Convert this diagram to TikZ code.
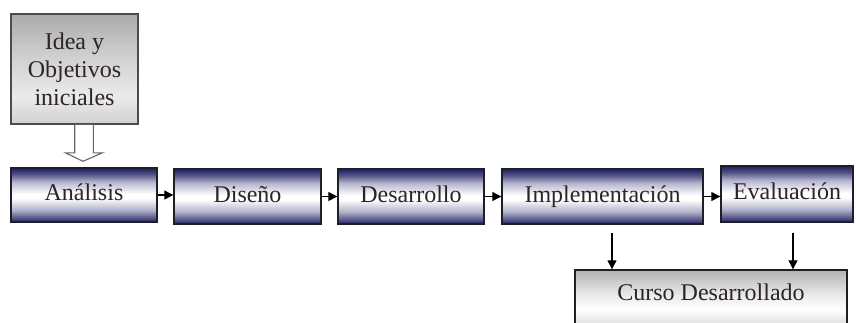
\documentclass[tikz,border=0pt]{standalone}
\usepackage{fontspec}
\setmainfont{Liberation Serif}
\usetikzlibrary{arrows.meta,calc}

\definecolor{navy}{RGB}{30,30,98}
\definecolor{ink}{RGB}{45,35,42}
\definecolor{edge}{RGB}{30,30,40}

% Shadings are fitted so that 25bp..75bp covers the path (bottom to top).
% dark - white - dark bar used for the process steps
\pgfdeclareverticalshading{bluebar}{100bp}{%
  color(0bp)=(navy); color(25bp)=(navy); color(28bp)=(navy!80!white);
  color(36bp)=(navy!35!white); color(47bp)=(white); color(51bp)=(white);
  color(62bp)=(navy!32!white); color(69bp)=(navy!75!white);
  color(75bp)=(navy); color(100bp)=(navy)}
% light grey bar of the result box
\pgfdeclareverticalshading{graybar}{100bp}{%
  color(0bp)=(black!22); color(25bp)=(black!22); color(45bp)=(white);
  color(56bp)=(white!92!black); color(75bp)=(black!30); color(100bp)=(black!30)}
% grey panel of the starting idea
\pgfdeclareverticalshading{ideabar}{100bp}{%
  color(0bp)=(black!18); color(25bp)=(black!18); color(37.5bp)=(black!8);
  color(55bp)=(black!18); color(75bp)=(black!33); color(100bp)=(black!33)}

\tikzset{
  txt/.style={font=\fontsize{24}{28}\selectfont, text=ink},
  stepbox/.style={txt, draw=edge, line width=1.4pt, shading=bluebar,
    inner sep=0pt, text height=16pt, text depth=5pt},
  graybox/.style={txt, draw=edge, line width=1.4pt, shading=graybar,
    inner sep=0pt},
  ideabox/.style={txt, draw=black!70, line width=1.6pt, shading=ideabar,
    inner sep=0pt, align=center},
  conn/.style={draw=black, line width=1.2pt,
    -{Triangle[length=9pt,width=9pt]}},
  hollow/.style={draw=black!60, line width=1.1pt, fill=white,
    line join=miter}
}

\begin{document}
\begin{tikzpicture}[x=1pt, y=-1pt]
  \clip (0,0) rectangle (856,322);
  \fill[white] (0,0) rectangle (856,322);

  % starting idea
  \node[ideabox, minimum width=127pt, minimum height=110pt] (idea)
    at (74.5,69) {Idea y\\Objetivos\\iniciales};

  % process steps
  \node[stepbox, minimum width=146pt, minimum height=54pt] (ana)
    at (84,195) {Análisis};
  \node[stepbox, minimum width=147pt, minimum height=55pt] (dis)
    at (247.5,196.5) {Diseño};
  \node[stepbox, minimum width=146pt, minimum height=55pt] (des)
    at (411,196.5) {Desarrollo};
  \node[stepbox, minimum width=201pt, minimum height=55pt] (imp)
    at (602.5,196.5) {Implementación};
  \node[stepbox, minimum width=132pt, minimum height=56pt] (eva)
    at (787,194) {Evaluación};

  % result
  \node[graybox, minimum width=272pt, minimum height=66pt,
        text height=16pt, text depth=21pt] (cur)
    at (711,303) {Curso Desarrollado};

  % hollow arrow from the idea to the first step
  \coordinate (hs) at (ana.north |- idea.south);
  \coordinate (ht) at ($(ana.north)+(-1,-6)$);
  \draw[hollow] ($(hs)+(-9.3,0)$) -- ($(hs)+(-9.3,28)$) -- ($(hs)+(-18.5,28)$)
    -- (ht) -- ($(hs)+(18.5,28)$) -- ($(hs)+(9.3,28)$) -- ($(hs)+(9.3,0)$);

  % step to step
  \draw[conn] (ana.east) -- (ana.east -| dis.west);
  \draw[conn] (dis.east) -- (dis.east -| des.west);
  \draw[conn] (des.east) -- (des.east -| imp.west);
  \draw[conn] (imp.east) -- (imp.east -| eva.west);

  % into the result
  \coordinate (d1) at (612,233);
  \coordinate (d2) at (793,233);
  \draw[conn] (d1) -- (d1 |- cur.north);
  \draw[conn] (d2) -- (d2 |- cur.north);
\end{tikzpicture}
\end{document}
